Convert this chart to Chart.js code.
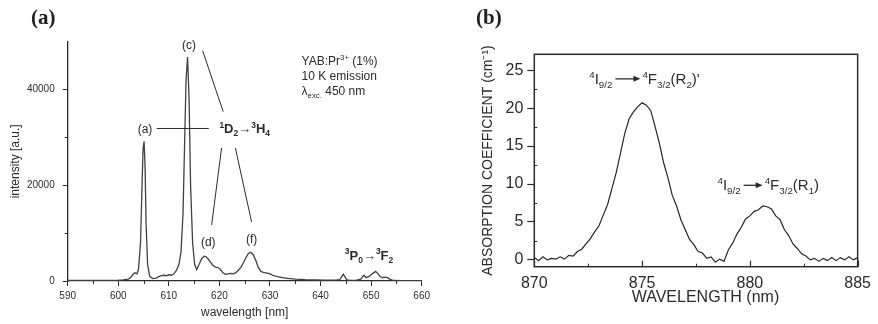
<!DOCTYPE html>
<html><head><meta charset="utf-8">
<script src="https://cdn.jsdelivr.net/npm/chart.js@4/dist/chart.umd.min.js"></script>
<style>
html,body{margin:0;padding:0;background:#fff;}
#wrap{position:relative;width:878px;height:324px;overflow:hidden;background:#fff;}
canvas{position:absolute;top:0;}
.plab{position:absolute;font-family:"Liberation Serif","DejaVu Serif",serif;font-weight:bold;font-size:21px;color:#222;line-height:1;}
</style></head>
<body>
<div id="wrap">
  <canvas id="ca" width="440" height="324" style="left:0;width:440px;height:324px"></canvas>
  <canvas id="cb" width="438" height="324" style="left:440px;width:438px;height:324px"></canvas>
  <div class="plab" style="left:31px;top:7px">(a)</div>
  <div class="plab" style="left:476px;top:7px">(b)</div>
</div>
<script>
// ---------- Panel (a): emission spectrum ----------
const wavelengthA = [590,592,594,596,598,600,601,602,602.5,603,603.3,603.7,604,604.4,604.7,604.9,605.1,605.3,605.5,605.8,606.2,606.8,607.5,608,608.5,609,609.5,610,610.5,611,611.5,612,612.4,612.8,613.1,613.4,613.7,614.0,614.3,614.7,615.1,615.5,616,616.5,617,617.3,617.7,618.2,618.7,619.2,619.7,620.2,620.7,621.2,621.7,622.2,622.7,623.2,623.7,624.2,624.7,625.2,625.7,626.2,626.7,627.2,627.7,628.2,628.7,629.2,629.7,630.2,630.7,631.5,632.5,633.5,635,637,639,641,643,643.8,644.2,644.5,644.8,645.2,646,647,648,648.3,648.6,649.0,649.5,650,650.5,650.9,651.3,651.8,652.3,652.8,653.2,653.7,654.2,655,656,658,660];
const intensityA = [150,150,120,150,150,200,250,400,800,1500,1700,1500,2500,8000,20000,27500,29200,24000,12000,3500,1000,500,600,900,1100,1200,1100,1300,1200,1500,2200,3500,6000,14000,28000,42000,46800,38000,20000,8000,3500,2400,3500,4700,5200,5100,4700,4000,3300,2900,2800,2400,1700,1400,1500,1600,1500,1700,2200,2800,3700,4800,5700,6000,5500,4300,2800,2000,1800,1700,1600,1400,1100,900,700,550,400,300,250,200,200,300,900,1400,900,250,150,150,400,900,1200,700,900,1300,1700,2000,1600,900,700,800,700,400,200,100,80,80,80];
const xTicksA = [590,600,610,620,630,640,650,660];
const xMinorA = [595,605,615,625,635,645,655];
const yTicksA = [0,20000,40000];
const yMinorA = [10000,30000];

// ---------- Panel (b): absorption spectrum ----------
const wavelengthB = [870.0,870.2,870.4,870.6,870.8,871.0,871.2,871.4,871.6,871.8,872.0,872.2,872.4,872.6,872.8,873.0,873.2,873.4,873.6,873.8,874.0,874.2,874.4,874.6,874.8,875.0,875.2,875.4,875.6,875.8,876.0,876.2,876.4,876.6,876.8,877.0,877.2,877.4,877.6,877.8,878.0,878.2,878.4,878.6,878.8,879.0,879.2,879.4,879.6,879.8,880.0,880.2,880.4,880.6,880.8,881.0,881.2,881.4,881.6,881.8,882.0,882.2,882.4,882.6,882.8,883.0,883.2,883.4,883.6,883.8,884.0,884.2,884.4,884.6,884.8,885.0];
const absorptionB = [0.3,-0.1,0.4,0.0,0.2,0.1,0.4,0.1,0.6,0.5,1.1,1.4,2.1,2.8,3.7,4.5,5.9,7.3,9.4,11.5,14.1,16.7,18.6,19.5,20.2,20.7,20.4,19.7,17.6,15.4,12.8,10.8,8.5,7.1,5.3,4.0,2.7,2.0,1.1,0.9,0.2,0.4,-0.3,0.1,-0.2,1.3,2.2,3.4,4.3,5.4,5.8,6.4,6.6,7.1,7.0,6.7,5.8,5.3,4.0,3.2,2.1,1.5,0.8,0.5,0.0,0.2,-0.2,0.2,-0.1,0.3,-0.1,0.3,0.0,0.4,0.0,0.3];
const xTicksB = [870,875,880,885];
const xMinorB = [872.5,877.5,882.5];
const yTicksB = [0,5,10,15,20,25];
const yMinorB = [2.5,7.5,12.5,17.5,22.5];

const FONT = '"Liberation Sans", Arial, sans-serif';
const INK = '#2b2b2b';

// rich text: segs = [text, mode] mode 0 normal, 1 sup, -1 sub, 'arrow' => width px
function richWidth(ctx, segs, size, weight){
  let w = 0;
  for (const [t,m] of segs){
    if (m === 'arrow'){ w += t; continue; }
    const s = m === 0 ? size : size*0.65;
    ctx.font = weight + ' ' + s + 'px ' + FONT;
    w += ctx.measureText(t).width;
  }
  return w;
}
function drawRich(ctx, x, yc, segs, size, weight, align){
  const total = richWidth(ctx, segs, size, weight);
  let cx = align === 'center' ? x - total/2 : x;
  const base = yc + size*0.35;
  ctx.fillStyle = INK; ctx.strokeStyle = INK;
  ctx.textBaseline = 'alphabetic'; ctx.textAlign = 'left';
  for (const [t,m] of segs){
    if (m === 'arrow'){
      const ay = base - size*0.33;
      ctx.lineWidth = 1.3;
      ctx.beginPath(); ctx.moveTo(cx+3, ay); ctx.lineTo(cx+t-7, ay); ctx.stroke();
      ctx.beginPath(); ctx.moveTo(cx+t-2, ay); ctx.lineTo(cx+t-9, ay-3); ctx.lineTo(cx+t-9, ay+3); ctx.closePath(); ctx.fill();
      cx += t; continue;
    }
    const s = m === 0 ? size : size*0.65;
    ctx.font = weight + ' ' + s + 'px ' + FONT;
    const dy = m === 1 ? -size*0.42 : (m === -1 ? size*0.25 : 0);
    ctx.fillText(t, cx, base + dy);
    cx += ctx.measureText(t).width;
  }
}

const annotA = [
  {x:613.97, y:49300, segs:[['(c)',0]], size:12, weight:'normal', align:'center'},
  {x:605.28, y:31870, segs:[['(a)',0]], size:12, weight:'normal', align:'center'},
  {x:617.79, y:8210, segs:[['(d)',0]], size:12, weight:'normal', align:'center'},
  {x:626.36, y:8920, segs:[['(f)',0]], size:12, weight:'normal', align:'center'},
  {x:620.0, y:31870, segs:[['1',1],['D',0],['2',-1],['\u2192',0],['3',1],['H',0],['4',-1]], size:13, weight:'bold', align:'left'},
  {x:636.25, y:46040, segs:[['YAB:Pr',0],['3+',1],[' (1%)',0]], size:12, weight:'normal', align:'left'},
  {x:636.25, y:42900, segs:[['10 K emission',0]], size:12, weight:'normal', align:'left'},
  {x:636.25, y:39700, segs:[['\u03bb',0],['exc.',-1],[' 450 nm',0]], size:12, weight:'normal', align:'left'},
  {x:644.8, y:5430, segs:[['3',1],['P',0],['0',-1],['\u2192',0],['3',1],['F',0],['2',-1]], size:13, weight:'bold', align:'left'}
];
const leadersA = [[607.6,31870,617.9,31870],[616.68,48130,620.75,35380],[620.43,27800,618.46,11700],[623.16,27800,626.36,12330]];

const annotB = [
  {x:872.55, y:23.9, segs:[['4',1],['I',0],['9/2',-1],[30,'arrow'],['4',1],['F',0],['3/2',-1],['(R',0],['2',-1],[")'",0]], size:15, weight:'normal', align:'left'},
  {x:878.5, y:9.87, segs:[['4',1],['I',0],['9/2',-1],[24,'arrow'],['4',1],['F',0],['3/2',-1],['(R',0],['1',-1],[')',0]], size:15, weight:'normal', align:'left'}
];
// fix arrow segs order (value first) for helper
for (const a of annotB) a.segs = a.segs.map(s => s[1] === 'arrow' ? [s[0],'arrow'] : s);

const annotPlugin = (annots, leaders, extra) => ({
  id:'annot',
  afterDatasetsDraw(chart){
    const {ctx, scales:{x,y}} = chart;
    ctx.save();
    ctx.strokeStyle = INK; ctx.lineWidth = 1;
    for (const [x1,y1,x2,y2] of leaders){
      ctx.beginPath(); ctx.moveTo(x.getPixelForValue(x1), y.getPixelForValue(y1));
      ctx.lineTo(x.getPixelForValue(x2), y.getPixelForValue(y2)); ctx.stroke();
    }
    for (const a of annots){
      drawRich(ctx, x.getPixelForValue(a.x), y.getPixelForValue(a.y), a.segs, a.size, a.weight, a.align);
    }
    if (extra) extra(chart);
    ctx.restore();
  }
});

function minorTicks(chart, xs, ys, len, inside){
  const {ctx, chartArea:ca, scales:{x,y}} = chart;
  ctx.strokeStyle = INK; ctx.lineWidth = 1;
  for (const v of xs){
    const px = Math.round(x.getPixelForValue(v))+0.5;
    ctx.beginPath(); ctx.moveTo(px, ca.bottom); ctx.lineTo(px, inside ? ca.bottom-len : ca.bottom+len); ctx.stroke();
  }
  for (const v of ys){
    const py = Math.round(y.getPixelForValue(v))+0.5;
    ctx.beginPath(); ctx.moveTo(ca.left, py); ctx.lineTo(inside ? ca.left+len : ca.left-len, py); ctx.stroke();
  }
}

const common = {animation:false, responsive:false, maintainAspectRatio:false, events:[],
  plugins:{legend:{display:false}, tooltip:{enabled:false}}};

new Chart(document.getElementById('ca'), {
  type:'line',
  data:{datasets:[{data: wavelengthA.map((w,i)=>({x:w, y:intensityA[i]})), borderColor:'#404040', borderWidth:1.3, pointRadius:0, tension:0, fill:false}]},
  options:Object.assign({}, common, {
    layout:{padding:{top:41.7, right:18.3, left:0, bottom:0}},
    scales:{
      x:{type:'linear', min:590, max:660,
        afterBuildTicks:s=>{s.ticks = xTicksA.map(v=>({value:v}));},
        ticks:{font:{family:FONT, size:10}, color:INK, padding:4, maxRotation:0, callback:v=>String(v)},
        grid:{display:true, drawOnChartArea:false, tickLength:5, color:INK, tickWidth:1},
        border:{display:true, color:INK, width:1.3},
        title:{display:true, text:'wavelength [nm]', font:{family:FONT, size:12}, color:INK, padding:{top:0,bottom:4}},
        afterFit:s=>{s.height = 43;}},
      y:{type:'linear', min:0, max:50000,
        afterBuildTicks:s=>{s.ticks = yTicksA.map(v=>({value:v}));},
        ticks:{font:{family:FONT, size:10}, color:INK, padding:8, callback:v=>String(v)},
        grid:{display:true, drawOnChartArea:false, tickLength:5, color:INK, tickWidth:1},
        border:{display:true, color:INK, width:1.3},
        title:{display:true, text:'intensity [a.u.]', font:{family:FONT, size:12}, color:INK, padding:{top:8,bottom:0}},
        afterFit:s=>{s.width = 67.7;}}
    }
  }),
  plugins:[annotPlugin(annotA, leadersA, ch=>minorTicks(ch, xMinorA, yMinorA, 3, false))]
});

new Chart(document.getElementById('cb'), {
  type:'line',
  data:{datasets:[{data: wavelengthB.map((w,i)=>({x:w, y:absorptionB[i]})), borderColor:'#262626', borderWidth:1.2, pointRadius:0, tension:0, fill:false}]},
  options:Object.assign({}, common, {
    layout:{padding:{top:54.3, right:16.3, left:0, bottom:0}},
    scales:{
      x:{type:'linear', min:870, max:885,
        afterBuildTicks:s=>{s.ticks = xTicksB.map(v=>({value:v}));},
        ticks:{font:{family:FONT, size:16}, color:INK, padding:7, maxRotation:0, callback:v=>String(v)},
        grid:{display:false, drawTicks:false},
        border:{display:false},
        title:{display:false},
        afterFit:s=>{s.height = 57.3;}},
      y:{type:'linear', min:-0.9, max:27.1,
        afterBuildTicks:s=>{s.ticks = yTicksB.map(v=>({value:v}));},
        ticks:{font:{family:FONT, size:16}, color:INK, padding:4, callback:v=>String(v)},
        grid:{display:true, drawOnChartArea:false, tickLength:7, color:INK, tickWidth:1.2},
        border:{display:false},
        title:{display:true, text:'ABSORPTION COEFFICIENT (cm\u207B\u00B9)', font:{family:FONT, size:14}, color:INK, padding:{top:40,bottom:0}},
        afterFit:s=>{s.width = 94.3;}}
    }
  }),
  plugins:[annotPlugin(annotB, [], ch=>{
    const {ctx, chartArea:ca, scales:{x}} = ch;
    ctx.strokeStyle = INK; ctx.lineWidth = 1.5;
    ctx.strokeRect(ca.left, ca.top, ca.right-ca.left, ca.bottom-ca.top);
    ctx.lineWidth = 1.2;
    for (const v of xTicksB){
      const px = Math.round(x.getPixelForValue(v))+0.5;
      ctx.beginPath(); ctx.moveTo(px, ca.bottom); ctx.lineTo(px, ca.bottom-6); ctx.stroke();
    }
    minorTicks(ch, xMinorB, yMinorB, 3, true);
    ctx.fillStyle = INK; ctx.font = '16px ' + FONT; ctx.textAlign = 'center'; ctx.textBaseline = 'middle';
    ctx.fillText('WAVELENGTH (nm)', x.getPixelForValue(877.94), ca.bottom + 31);
  })]
});
</script>
</body></html>
